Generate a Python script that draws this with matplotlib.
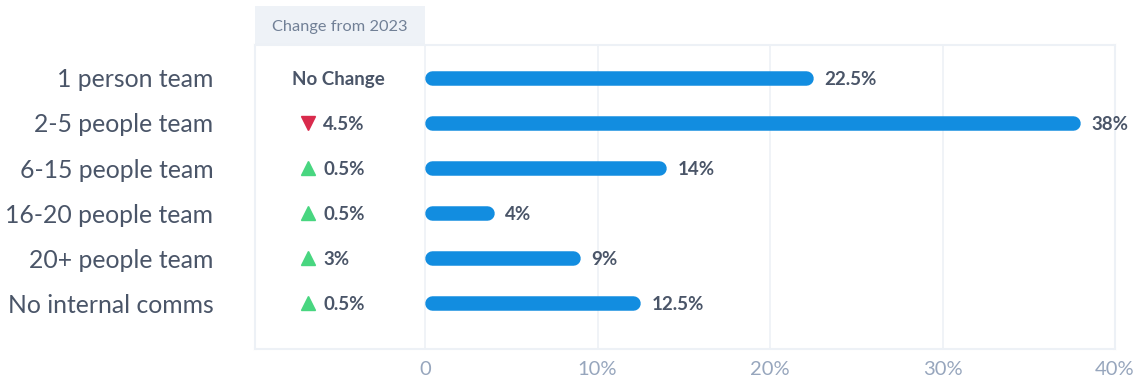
import numpy as np
import matplotlib.pyplot as plt
from matplotlib.patches import Rectangle
import matplotlib.transforms as mtransforms

# Team size share with change vs. previous year
teams = ['1 person team', '2-5 people team', '6-15 people team',
         '16-20 people team', '20+ people team', 'No internal comms']
share = [22.5, 38, 14, 4, 9, 12.5]           # % of respondents
change = [0, -4.5, 0.5, 0.5, 3, 0.5]          # change from 2023, pct points
xticks = [0, 10, 20, 30, 40]
xtick_labels = ['0', '10%', '20%', '30%', '40%']

bar_color = '#128de0'
text_color = '#4a5568'
grid_color = '#edf1f6'
up_color = '#48d680'
down_color = '#d92a4c'

plt.rcParams['font.family'] = ['Lato', 'DejaVu Sans']

fig = plt.figure(figsize=(11.36, 3.81), dpi=100)
ax = fig.add_axes([0.2245, 0.084, 0.757, 0.798])

x_left = -9.86
ax.set_xlim(x_left, 40)
ax.set_ylim(6.02, -0.733)

y = np.arange(len(teams))

# rounded bars: line with round caps, trimmed by cap radius so ends sit on 0 / value
px_per_unit = ax.bbox.width / (40 - x_left)
bar_px = 14.5
r = (bar_px / 2) / px_per_unit
for yi, v in zip(y, share):
    ax.plot([r, v - r], [yi, yi], color=bar_color, lw=bar_px * 72 / 100,
            solid_capstyle='round', zorder=3)
    ax.annotate(f'{v:g}%', (v, yi), xytext=(8, 0), textcoords='offset points',
                va='center_baseline', ha='left', fontsize=13.5, fontweight='bold',
                color=text_color, zorder=4)

# change column
trans = mtransforms.blended_transform_factory(ax.transAxes, ax.transData)
for yi, c in zip(y, change):
    if c == 0:
        ax.text(0.0965, yi, 'No Change', transform=trans, ha='center',
                va='center_baseline', fontsize=13.5, fontweight='bold',
                color=text_color)
        continue
    mk, col = ('^', up_color) if c > 0 else ('v', down_color)
    ax.plot([0.0616], [yi], marker=mk, color=col, markersize=10,
            transform=trans, linestyle='none', clip_on=False)
    ax.text(0.0795, yi, f'{abs(c):g}%', transform=trans, ha='left',
            va='center_baseline', fontsize=13.5, fontweight='bold',
            color=text_color)

# header box above change column
hdr_w = (0 - x_left) / (40 - x_left)
ax.add_patch(Rectangle((0, 1.0), hdr_w, 0.128, transform=ax.transAxes,
                       facecolor='#eef2f7', edgecolor='none', clip_on=False))
ax.text(hdr_w / 2, 1.064, 'Change from 2023', transform=ax.transAxes,
        ha='center', va='center_baseline', fontsize=11.8, color='#718096')

# grid and frame
for xv in xticks[:-1]:
    ax.axvline(xv, color=grid_color, lw=1.2, zorder=1)
for s in ax.spines.values():
    s.set_color(grid_color)
    s.set_linewidth(1.5)

ax.set_xticks(xticks)
ax.set_xticklabels(xtick_labels)
ax.set_yticks(y)
ax.set_yticklabels(teams)
for lbl in ax.get_yticklabels():
    lbl.set_verticalalignment('center_baseline')
ax.tick_params(axis='x', length=0, pad=9, labelsize=14.5, labelcolor='#97a6bd')
ax.tick_params(axis='y', length=0, pad=30, labelsize=17.8, labelcolor=text_color)

fig.savefig('out.png', dpi=100)
